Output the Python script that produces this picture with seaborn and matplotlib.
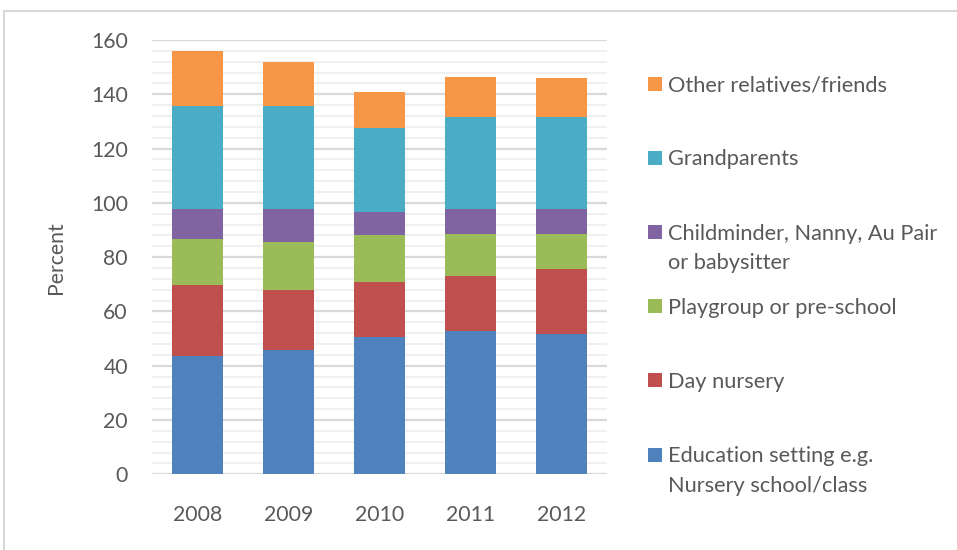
import matplotlib
matplotlib.use("Agg")
import matplotlib.pyplot as plt
from matplotlib.patches import Rectangle
from matplotlib.ticker import MultipleLocator
import numpy as np
import pandas as pd
import seaborn as sns

years = ["2008", "2009", "2010", "2011", "2012"]
education = [43.7, 45.9, 50.6, 52.8, 51.8]
day_nursery = [26.0, 22.0, 20.2, 20.2, 23.8]
playgroup = [17.0, 17.7, 17.2, 15.7, 13.1]
childminder = [11.0, 12.1, 8.6, 9.0, 9.0]
grandparents = [38.0, 38.0, 31.1, 33.9, 34.0]
other = [20.3, 16.2, 13.2, 14.8, 14.3]

series_names = [
    "Education setting e.g.\nNursery school/class",
    "Day nursery",
    "Playgroup or pre-school",
    "Childminder, Nanny, Au Pair\nor babysitter",
    "Grandparents",
    "Other relatives/friends",
]
series_values = [education, day_nursery, playgroup, childminder, grandparents, other]
colors = ["#4F81BD", "#C0504D", "#9BBB59", "#8064A2", "#4BACC6", "#F79646"]

sns.set_theme(style="white")
plt.rcParams["font.family"] = ["Lato", "DejaVu Sans"]
text_color = "#595959"
fs = 15.3
fs_leg = 15.7

W, H = 957, 550
fig = plt.figure(figsize=(W / 100, H / 100), dpi=100)
ax_l, ax_r, ax_t, ax_b = 152, 607, 40, 474.3
ax = fig.add_axes([ax_l / W, 1 - ax_b / H, (ax_r - ax_l) / W, (ax_b - ax_t) / H])

# stacked via cumulative totals, drawn from top layer down
cum = np.cumsum(np.array(series_values), axis=0)
for i in reversed(range(len(series_names))):
    df = pd.DataFrame({"year": years, "value": cum[i]})
    sns.barplot(data=df, x="year", y="value", order=years, color=colors[i],
                saturation=1, width=0.57, linewidth=0, edgecolor="none", ax=ax,
                zorder=3)

ax.set_xlim(-0.5, 4.5)
ax.set_ylim(0, 160)
ax.yaxis.set_major_locator(MultipleLocator(20))
ax.yaxis.set_minor_locator(MultipleLocator(4))
ax.grid(which="minor", axis="y", color="#f0f0f0", lw=1.5, zorder=0)
ax.grid(which="major", axis="y", color="#d9d9d9", lw=1.6, zorder=1)
ax.grid(which="major", axis="x", visible=False)
ax.set_axisbelow(True)
for s in ax.spines.values():
    s.set_visible(False)
ax.tick_params(axis="both", which="both", length=0, labelsize=fs, colors=text_color)
ax.tick_params(axis="y", pad=17.3)
ax.tick_params(axis="x", pad=22)
ax.set_xlabel("")
ax.set_ylabel("Percent", fontsize=fs, color=text_color, va="center")
ax.yaxis.set_label_coords((55.5 - ax_l) / (ax_r - ax_l), 0.5)

# legend (manual, Excel style)
rows_y = [455, 380, 306, 232, 158, 84]
for i in range(len(series_names)):
    y = rows_y[i]
    fig.patches.append(Rectangle((648 / W, 1 - (y + 7) / H), 14 / W, 14 / H,
                                 transform=fig.transFigure, facecolor=colors[i],
                                 edgecolor="none"))
    fig.text(668 / W, 1 - (y - 8.5) / H, series_names[i], fontsize=fs_leg,
             color=text_color, ha="left", va="top", linespacing=1.6)

# outer frame
fig.patches.append(Rectangle((3.5 / W, -0.1), 1.2, 1 - 11 / H + 0.1,
                             transform=fig.transFigure, facecolor="none",
                             edgecolor="#d9d9d9", lw=1.5))

fig.savefig("out.png", dpi=100)
